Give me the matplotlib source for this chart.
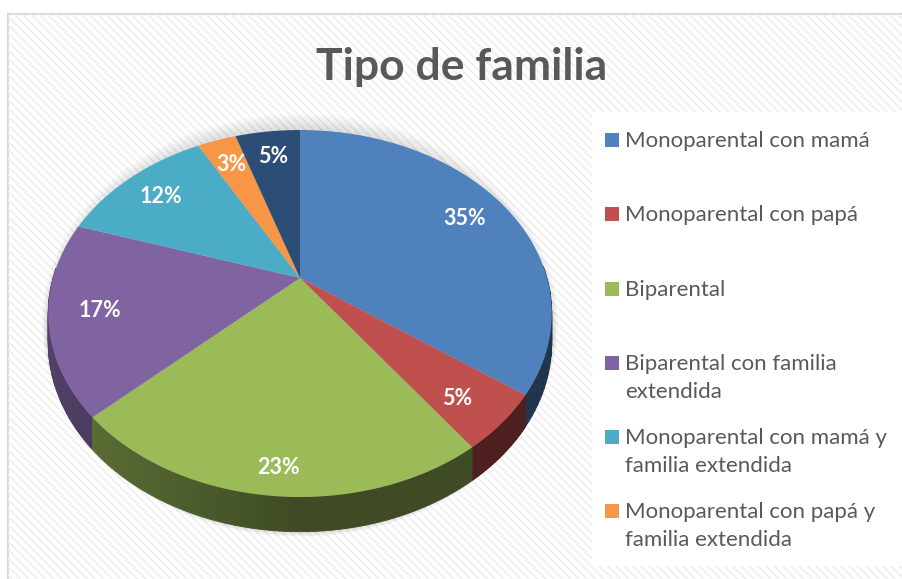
import numpy as np
import matplotlib
matplotlib.use("Agg")
import matplotlib.pyplot as plt
from matplotlib.patches import Polygon, Rectangle, Ellipse
from matplotlib.colors import to_rgb

# data
categorias = ["Monoparental con mamá", "Monoparental con papá", "Biparental",
              "Biparental con familia\nextendida",
              "Monoparental con mamá y\nfamilia extendida",
              "Monoparental con papá y\nfamilia extendida",
              "Otro"]
valores = [35, 5, 23, 17, 12, 3, 5]
colores = ["#4f81bd", "#c0504d", "#9bbb59", "#8064a2", "#4bacc6", "#f79646", "#2c4d75"]
en_leyenda = 6  # the last entry is cut off in the original legend

plt.rcParams['hatch.linewidth'] = 1.2

fig = plt.figure(figsize=(9.02, 5.79), dpi=100)
ax = fig.add_axes([0, 0, 1, 1])
ax.set_xlim(0, 902)
ax.set_ylim(579, 0)
ax.axis("off")

# chart area with light stripes
ax.add_patch(Rectangle((8, 14), 900, 580, facecolor="white", edgecolor="#d9d9d9",
                       lw=1.5, zorder=0))
ax.add_patch(Rectangle((8, 14), 900, 580, facecolor="none", edgecolor="#efefef",
                       hatch="\\\\\\\\", lw=0, zorder=0))

# perspective pie geometry
cx, cy = 300, 278
a, b, k = 247, 176.6, 0.1935
depth = 28


def proj(u, v):
    s = 1 + k * v
    return cx + a * u / s, cy - b * v / s


def shade(c, f):
    r, g, bb = to_rgb(c)
    return (r * f, g * f, bb * f)


# soft shadow
for i in range(8):
    ax.add_patch(Ellipse((cx, 322 + 2 * i), 2 * 258 - 2 * i, 2 * 208 - 2 * i,
                         facecolor="black", alpha=0.025, lw=0, zorder=1))

total = sum(valores)
frac = np.cumsum([0] + valores) / total * 360
quads = []
tops = []
for i, val in enumerate(valores):
    t = np.radians(np.linspace(frac[i], frac[i + 1], 80))
    u, v = np.sin(t), np.cos(t)
    xs, ys = proj(u, v)
    tops.append(Polygon(np.column_stack([np.r_[cx, xs], np.r_[cy, ys]]),
                        closed=True, facecolor=colores[i], lw=0, zorder=5))
    dys = depth / (1 + k * v)
    for j in range(len(t) - 1):
        if v[j] > 0.05 and v[j + 1] > 0.05:
            continue
        f = 0.4 + 0.25 * max(0, -(u[j] + u[j + 1]) / 2)
        pts = [(xs[j], ys[j]), (xs[j + 1], ys[j + 1]),
               (xs[j + 1], ys[j + 1] + dys[j + 1]), (xs[j], ys[j] + dys[j])]
        quads.append((-(v[j] + v[j + 1]) / 2,
                      Polygon(pts, closed=True, facecolor=shade(colores[i], f),
                              edgecolor=shade(colores[i], f), lw=0.6)))

quads.sort(key=lambda q: q[0])
for n, (_, p) in enumerate(quads):
    p.set_zorder(2)
    ax.add_patch(p)
for p in tops:
    ax.add_patch(p)

# percentage labels
for i, val in enumerate(valores):
    tm = np.radians((frac[i] + frac[i + 1]) / 2)
    r = 0.8
    u, v = r * np.sin(tm), r * np.cos(tm)
    x, y = proj(u, v)
    if v < 0:
        y += 24 * (-np.cos(tm)) ** 3
    ax.text(x, y, f"{val}%", color="white", fontsize=15.5, fontweight="bold",
            family="Lato", ha="center", va="center", zorder=10)

# title
ax.text(462, 67, "Tipo de familia", fontsize=32, fontweight="bold", color="#595959",
        family="Lato", ha="center", va="center", zorder=10)

# legend
ax.add_patch(Rectangle((592, 112), 310, 454, facecolor="white", lw=0, zorder=8))
leg_y = [140, 214, 289, 363, 437, 511]
for i in range(en_leyenda):
    y = leg_y[i]
    ax.add_patch(Rectangle((605, y - 7), 14, 14, facecolor=colores[i], lw=0, zorder=9))
    ax.text(625, y - 9, categorias[i], fontsize=16, color="#595959", family="Lato",
            ha="left", va="top", linespacing=1.5, zorder=10)

fig.savefig("out.png", dpi=100)
